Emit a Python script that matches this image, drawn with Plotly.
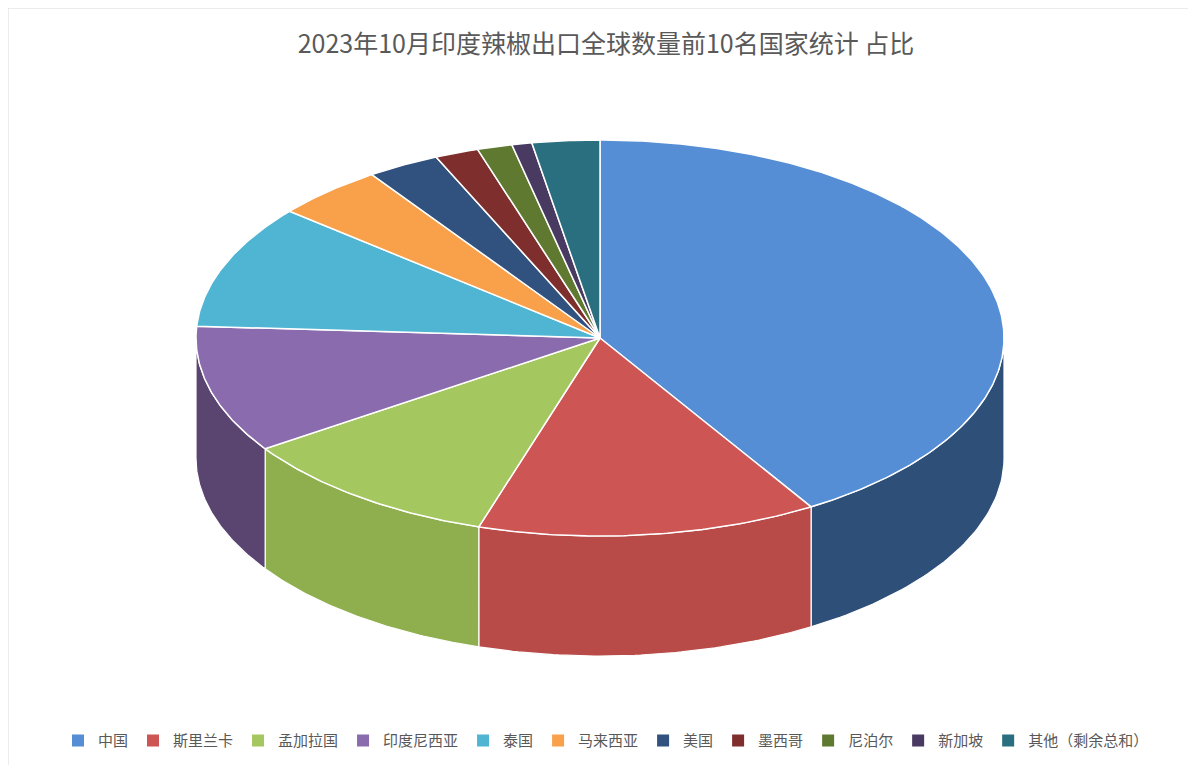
import numpy as np
import plotly.graph_objects as go

countries = ['中国', '斯里兰卡', '孟加拉国', '印度尼西亚', '泰国', '马来西亚',
             '美国', '墨西哥', '尼泊尔', '新加坡', '其他（剩余总和）']
shares = [41.25, 13.6, 10.7, 10.4, 10.1, 4.4, 2.9, 1.75, 1.4, 0.8, 2.7]
top_colors = ['#558ed5', '#cd5553', '#a5c75f', '#8a6bad', '#4fb5d3', '#f9a04a',
              '#31517e', '#7e2f2d', '#5f7a30', '#493a61', '#2a6f80']
side_colors = ['#2d4f78', '#b84a48', '#8fae4e', '#5a4570', '#3b8aa0', '#c47a35',
               '#1f3553', '#5a2120', '#3f5220', '#30263f', '#1d4e5a']

# ellipse geometry in pixels
cx, cy, rx, ry, depth = 592, 330, 404, 198, 120


def pt(a, dy=0.0):
    # a: degrees clockwise from top
    r = np.radians(a)
    return cx + rx * np.sin(r), cy - ry * np.cos(r) + dy


fig = go.Figure()
bounds = np.concatenate([[0], np.cumsum(shares) / sum(shares) * 360])

# side walls (front half only)
for i in range(len(shares)):
    a0, a1 = max(bounds[i], 90), min(bounds[i + 1], 270)
    if a1 <= a0:
        continue
    ang = np.linspace(a0, a1, 60)
    xt, yt = pt(ang)
    xb, yb = pt(ang[::-1], depth)
    fig.add_trace(go.Scatter(x=np.r_[xt, xb, xt[0]], y=np.r_[yt, yb, yt[0]],
                             fill='toself', fillcolor=side_colors[i], mode='lines',
                             line=dict(color='white', width=1.2),
                             showlegend=False, hoverinfo='skip'))

# top surface
for i, name in enumerate(countries):
    ang = np.linspace(bounds[i], bounds[i + 1], max(int((bounds[i + 1] - bounds[i]) * 2), 4))
    xs, ys = pt(ang)
    fig.add_trace(go.Scatter(x=np.r_[cx, xs, cx], y=np.r_[cy, ys, cy],
                             fill='toself', fillcolor=top_colors[i], mode='lines',
                             line=dict(color='white', width=1.5), name=name,
                             legendgroup=name, showlegend=False,
                             hovertemplate=f'{name}: {shares[i]}%<extra></extra>'))
    # legend entry with square marker
    fig.add_trace(go.Scatter(x=[None], y=[None], mode='markers', name=name,
                             legendgroup=name,
                             marker=dict(symbol='square', size=7, color=top_colors[i])))

fig.update_layout(
    width=1196, height=765,
    margin=dict(l=0, r=0, t=0, b=0),
    paper_bgcolor='white', plot_bgcolor='white',
    font=dict(family='Noto Sans CJK SC', color='#595959'),
    title=dict(text='2023年10月印度辣椒出口全球数量前10名国家统计 占比',
               x=0.5, y=0.953, xanchor='center', yanchor='middle',
               font=dict(size=25, color='#595959')),
    xaxis=dict(range=[0, 1196], visible=False, fixedrange=True),
    yaxis=dict(range=[765, 0], visible=False, fixedrange=True),
    legend=dict(orientation='h', x=0.5, xanchor='center', y=0.042, yanchor='middle',
                font=dict(size=15, color='#595959'), itemwidth=30, tracegroupgap=0,
                itemsizing='constant'),
    shapes=[dict(type='rect', xref='paper', yref='paper', x0=0, y0=0, x1=1, y1=1,
                 line=dict(color='#d9d9d9', width=1))],
)

fig.write_html("out.html")
